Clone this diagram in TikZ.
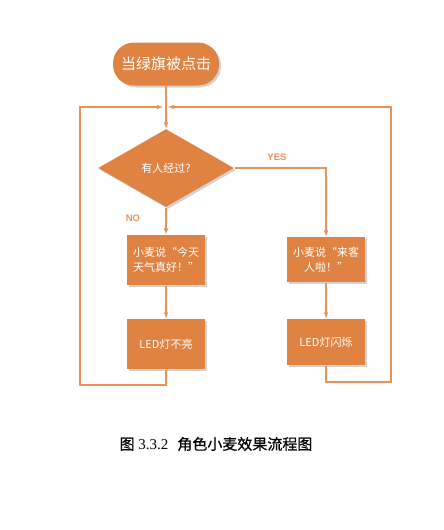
\documentclass[tikz,border=0pt]{standalone}
\usepackage{fontspec}
\setmainfont{Liberation Serif}
\newfontfamily\cjk{Noto Sans CJK SC}
\newfontfamily\capcjk[FakeBold=0.6]{Noto Sans CJK SC}
\newfontfamily\latin{Liberation Sans}
\usetikzlibrary{shapes.geometric,shadows}
\definecolor{flowor}{RGB}{224,131,66}
\definecolor{lineor}{RGB}{232,145,88}
\begin{document}
\begin{tikzpicture}[x=1pt,y=-1pt,line width=1.1pt,>=latex,
  box/.style={rectangle,fill=flowor,text=white,minimum width=78pt,minimum height=48pt,align=center,font=\cjk\fontsize{11}{15}\selectfont,drop shadow={shadow xshift=2pt,shadow yshift=-2pt,opacity=.35}},
  startbox/.style={rectangle,rounded corners=21pt,fill=flowor,text=white,minimum width=106pt,minimum height=43pt,font=\cjk\fontsize{15}{18}\selectfont,drop shadow={shadow xshift=2pt,shadow yshift=-2pt,opacity=.35}},
  decbox/.style={diamond,fill=flowor,text=white,minimum width=136pt,minimum height=78pt,inner sep=0pt,font=\cjk\fontsize{11}{13}\selectfont,drop shadow={shadow xshift=2pt,shadow yshift=-2pt,opacity=.35}},
  flow/.style={draw=lineor,->},
  tag/.style={text=lineor,font=\latin\bfseries\fontsize{9.5}{10}\selectfont}]
\useasboundingbox (0,0) rectangle (444,530);
\node[startbox] (start) at (166,64) {当绿旗被点击};
\node[decbox] (dec) at (166,168) {有人经过?};
\node[box,minimum height=50pt] (off1) at (166,260) {小麦说“今天\\天气真好！”};
\node[box,minimum height=50pt] (off2) at (166,344) {LED灯不亮};
\node[box,minimum height=45pt] (on1) at (326,259.5) {小麦说“来客\\人啦！”};
\node[box,minimum height=46pt] (on2) at (326,342) {LED灯闪烁};
\coordinate (lb) at (80,385);
\coordinate (lin) at (163,107);
\coordinate (rb) at (391,382);
\coordinate (rin) at (168,107);
\draw[flow] (start) -- (dec);
\draw[flow] (dec.east) -| (on1.north);
\draw[flow] (dec.south) -- (off1.north);
\draw[flow] (off1) -- (off2);\draw[flow] (on1) -- (on2);
\draw[flow] (off2.south) |- (lb) |- (lin);
\draw[flow] (on2.south) |- (rb) |- (rin);
\node[tag] (yes) at (277,157) {YES};
\node[tag] (no) at (133,218) {NO};
\node[font=\fontsize{15}{18}\selectfont] (cap) at (216,444) {{\capcjk 图} 3.3.2\hspace{0.6em}{\capcjk 角色小麦效果流程图}};
\end{tikzpicture}
\end{document}
